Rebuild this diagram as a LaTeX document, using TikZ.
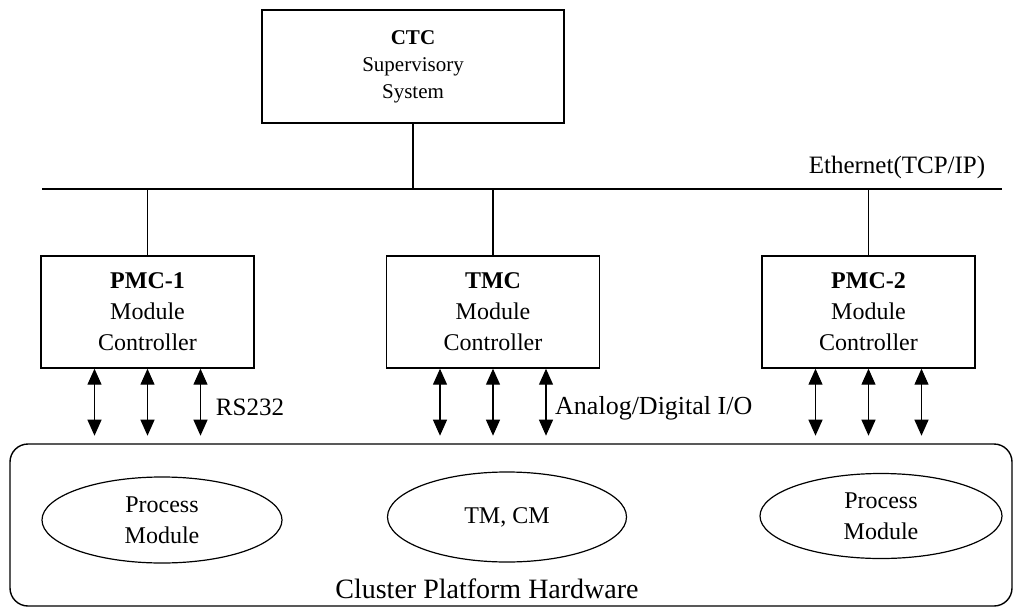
\documentclass[tikz,border=0pt]{standalone}
\usepackage{fontspec}
\setmainfont{Liberation Serif}
\usetikzlibrary{arrows.meta,shapes.geometric}
\begin{document}
\begin{tikzpicture}[x=1pt,y=-1pt,
  ln/.style={line width=1.4pt},
  box/.style={draw,line width=1.4pt,minimum width=213pt,minimum height=112pt,align=center,inner sep=0pt,font=\fontsize{24}{31}\selectfont},
  ell/.style={draw,ellipse,line width=1.2pt,minimum width=240pt,minimum height=86pt,inner sep=0pt,align=center,font=\fontsize{24}{31}\selectfont},
  io/.style={line width=1.2pt,{Triangle[width=14pt,length=16pt]}-{Triangle[width=14pt,length=16pt]}},
  lbl/.style={font=\fontsize{25}{30}\selectfont,inner sep=0pt}]
\useasboundingbox (0,0) rectangle (1014,610);
% supervisory system
\node[box,minimum width=302pt,minimum height=113pt,font=\fontsize{21}{27}\selectfont] (ctc) at (413,66.5) {\textbf{CTC}\\Supervisory\\System};
% ethernet bus
\coordinate (eL) at (42,189);
\coordinate (eR) at (1002,189);
\draw[ln] (eL) -- (eR);
\node[lbl] (eth) at (897,167) {Ethernet(TCP/IP)};
\draw[ln] (ctc.south) -- (ctc.south |- eL);
% module controllers
\node[box] (pmc1) at (147.5,312) {\textbf{PMC-1}\\Module\\Controller};
\node[box] (tmc) at (493,312) {\textbf{TMC}\\Module\\Controller};
\node[box] (pmc2) at (868.5,312) {\textbf{PMC-2}\\Module\\Controller};
\foreach \m in {pmc1,tmc,pmc2}{
  \draw[ln] (\m.north) -- (\m.north |- eL);
  \foreach \i/\dx in {1/-53,2/0,3/53}{
    \path ([xshift=\dx pt]\m.south) coordinate (\m t\i) ++(0,67) coordinate (\m b\i);
    \draw[io] (\m t\i) -- (\m b\i);
  }
}
\node[lbl] (rs) at (250,407) {RS232};
\node[lbl,anchor=west,font=\fontsize{26}{30}\selectfont] (adio) at (555,408) {Analog/Digital I/O};
% hardware
\node[draw,rounded corners=18pt,line width=1.4pt,minimum width=1002pt,minimum height=162pt,inner sep=0pt] (hw) at (511,525) {};
\node[ell] (pm1) at (162,520) {Process\\Module};
\node[ell,minimum width=239pt,minimum height=90pt] (tmcm) at (507,517) {TM, CM};
\node[ell,minimum width=242pt,minimum height=85pt] (pm2) at (881,516) {Process\\Module};
\node[lbl,font=\fontsize{28}{32}\selectfont] (cph) at (487,589) {Cluster Platform Hardware};
\end{tikzpicture}
\end{document}
